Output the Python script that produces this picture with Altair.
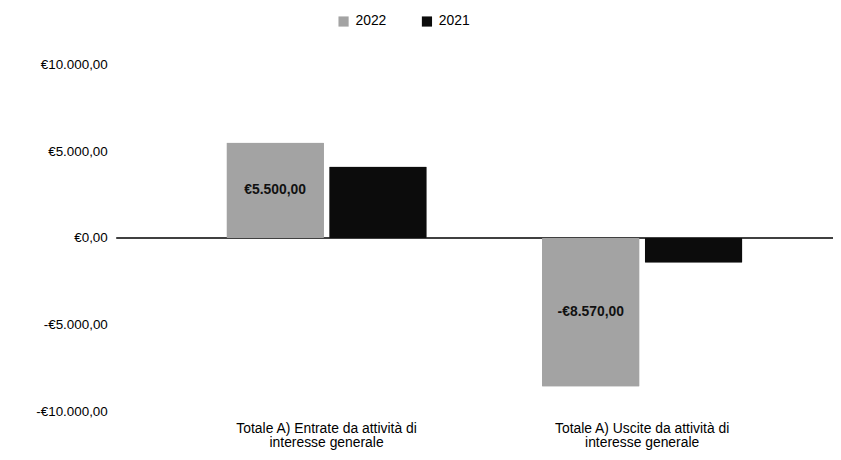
import altair as alt
import pandas as pd

categories = ["Totale A) Entrate da attività di interesse generale",
              "Totale A) Uscite da attività di interesse generale"]
years = ["2022", "2021"]
values_2022 = [5500.00, -8570.00]
values_2021 = [4110.00, -1430.00]

rows = []
for c, v22, v21 in zip(categories, values_2022, values_2021):
    rows.append({"cat": c, "anno": "2022", "val": v22})
    rows.append({"cat": c, "anno": "2021", "val": v21})
df = pd.DataFrame(rows)

fmt = ("(datum.value < 0 ? '-' : '') + '€' + "
       "replace(replace(replace(format(abs(datum.value), ',.2f'), ',', '#'), '.', ','), '#', '.')")

x = alt.X("cat:N", sort=categories, title=None,
          scale=alt.Scale(paddingInner=0.365, paddingOuter=0.315, align=0.554),
          axis=alt.Axis(labelAngle=0, domain=False, ticks=False, labelLimit=0,
                        labelExpr="datum.value == '" + categories[0] + "' ? ['Totale A) Entrate da attività di', 'interesse generale'] : ['Totale A) Uscite da attività di', 'interesse generale']",
                        labelFont="Liberation Sans", labelFontSize=14, labelColor="#000",
                        labelPadding=10, labelLineHeight=14.5))

y = alt.Y("val:Q", title=None,
          scale=alt.Scale(domain=[-10000, 10000], nice=False),
          axis=alt.Axis(values=[-10000, -5000, 0, 5000, 10000], grid=False, domain=False,
                        ticks=False, labelExpr=fmt,
                        labelFont="Liberation Sans", labelFontSize=13.5, labelColor="#000",
                        labelPadding=9))

color = alt.Color("anno:N", sort=years,
                  scale=alt.Scale(domain=years, range=["#a3a3a3", "#0c0c0c"]),
                  legend=alt.Legend(title=None, orient="none", direction="horizontal",
                                    legendX=222, legendY=-50, symbolType="square",
                                    symbolSize=105, symbolStrokeWidth=0,
                                    labelFont="Liberation Sans", labelFontSize=14,
                                    labelColor="#000", columnPadding=33, labelOffset=5))

bars = alt.Chart(df).mark_bar(cornerRadius=1).encode(
    x=x, y=y, color=color,
    xOffset=alt.XOffset("anno:N", sort=years, scale=alt.Scale(paddingInner=0.05, paddingOuter=0)),
)

zero = alt.Chart(pd.DataFrame({"z": [0]})).mark_rule(color="#000", strokeWidth=1.4).encode(
    y=alt.Y("z:Q", scale=alt.Scale(domain=[-10000, 10000], nice=False)),
    x=alt.value(0), x2=alt.value(722))

labels = alt.Chart(df[df["anno"] == "2022"]).transform_calculate(
    mid="datum.val / 2",
    txt="(datum.val < 0 ? '-' : '') + '€' + replace(replace(replace(format(abs(datum.val), ',.2f'), ',', '#'), '.', ','), '#', '.')"
).mark_text(font="Liberation Sans", fontSize=14, fontWeight="bold", color="#111").encode(
    x=alt.X("cat:N", sort=categories),
    xOffset=alt.XOffset("anno:N", sort=years),
    y=alt.Y("mid:Q"),
    text="txt:N")

chart = alt.layer(zero, bars, labels).properties(
    width=720, height=350,
    autosize=alt.AutoSizeParams(type="none"),
    padding={"left": 109, "top": 55, "right": 2, "bottom": 39},
).configure_view(stroke=None)

chart.save("out.html", embed_options={"renderer": "svg", "actions": False})
